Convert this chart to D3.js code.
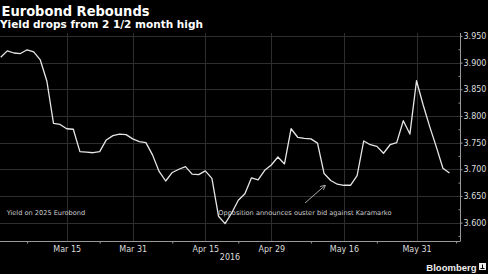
<!DOCTYPE html>
<html>
<head>
<meta charset="utf-8">
<script src="https://cdn.jsdelivr.net/npm/d3@7"></script>
<style>
  html, body { margin: 0; padding: 0; background: #000; }
  svg { display: block; }
</style>
</head>
<body>
<svg id="chart" width="488" height="274"></svg>
<script>
const dates = [
  "2016-03-01","2016-03-02","2016-03-03","2016-03-04","2016-03-07","2016-03-08","2016-03-09","2016-03-10","2016-03-11","2016-03-14",
  "2016-03-15","2016-03-16","2016-03-17","2016-03-18","2016-03-21","2016-03-22","2016-03-23","2016-03-24","2016-03-29","2016-03-30",
  "2016-03-31","2016-04-01","2016-04-04","2016-04-05","2016-04-06","2016-04-07","2016-04-08","2016-04-11","2016-04-12","2016-04-13",
  "2016-04-14","2016-04-15","2016-04-18","2016-04-19","2016-04-20","2016-04-21","2016-04-22","2016-04-25","2016-04-26","2016-04-27",
  "2016-04-28","2016-04-29","2016-05-02","2016-05-03","2016-05-04","2016-05-05","2016-05-06","2016-05-09","2016-05-10","2016-05-11",
  "2016-05-12","2016-05-13","2016-05-16","2016-05-17","2016-05-18","2016-05-19","2016-05-20","2016-05-23","2016-05-24","2016-05-25",
  "2016-05-26","2016-05-27","2016-05-30","2016-05-31","2016-06-01","2016-06-02","2016-06-03","2016-06-06","2016-06-07"
];
const yields = [
  3.910,3.922,3.918,3.917,3.924,3.920,3.905,3.865,3.786,3.784,
  3.776,3.775,3.733,3.732,3.731,3.733,3.755,3.763,3.766,3.765,
  3.757,3.752,3.750,3.727,3.696,3.678,3.694,3.700,3.705,3.691,
  3.690,3.697,3.683,3.612,3.598,3.618,3.642,3.654,3.684,3.680,
  3.698,3.708,3.723,3.710,3.776,3.760,3.758,3.757,3.749,3.692,
  3.679,3.672,3.670,3.670,3.688,3.753,3.746,3.743,3.730,3.746,
  3.750,3.791,3.766,3.866,3.821,3.780,3.742,3.702,3.693
];
const xTickDates = ["2016-03-15","2016-03-31","2016-04-15","2016-04-29","2016-05-16","2016-05-31"];
const xTickLabels = ["Mar 15","Mar 31","Apr 15","Apr 29","May 16","May 31"];
const xMinorDates = ["2016-03-07","2016-03-22","2016-04-08","2016-04-22","2016-05-09","2016-05-23"];
const yTicks = [3.600,3.650,3.700,3.750,3.800,3.850,3.900,3.950];
const yMinorTicks = [3.575,3.625,3.675,3.725,3.775,3.825,3.875,3.925];
const title = "Eurobond Rebounds";
const subtitle = "Yield drops from 2 1/2 month high";
const seriesLabel = "Yield on 2025 Eurobond";
const annotation = "Opposition announces ouster bid against Karamarko";
const yearLabel = "2016";

(function () {
const svg = d3.select("#chart");
const pLeft = 0, pRight = 460.5, pTop = 33, pBottom = 241;

const idx = d => dates.indexOf(d);
const x = d3.scaleLinear().domain([0, dates.length - 1]).range([0.7, 449.5]);
const y = d3.scaleLinear().domain([3.5655, 3.9555]).range([pBottom, pTop]);

const data = dates.map((d, i) => ({ i, v: yields[i] }));

// grid
const grid = svg.append("g").attr("stroke", "#2e2e2e").attr("stroke-width", 1);
yTicks.forEach(t => {
  grid.append("line").attr("x1", pLeft).attr("x2", pRight)
    .attr("y1", Math.round(y(t)) + 0.5).attr("y2", Math.round(y(t)) + 0.5);
});
xTickDates.forEach(d => {
  const px = Math.round(x(idx(d))) + 0.5;
  grid.append("line").attr("x1", px).attr("x2", px).attr("y1", pTop).attr("y2", pBottom);
});

// y axis (right)
const yAxis = d3.axisRight(y).tickValues(yTicks).tickSize(2).tickPadding(1)
  .tickFormat(d3.format(".3f"));
const ya = svg.append("g").attr("transform", `translate(${pRight},0)`).call(yAxis);
ya.select(".domain").remove();
ya.selectAll("line").attr("stroke", "#999");
ya.selectAll("text").attr("fill", "#ddd").attr("font-family", "DejaVu Sans").attr("font-size", "8px");
svg.append("line").attr("x1", pRight).attr("x2", pRight).attr("y1", pTop).attr("y2", pBottom)
  .attr("stroke", "#999");
const yMinor = d3.axisLeft(y).tickValues(yMinorTicks).tickSize(2).tickFormat("");
const ym = svg.append("g").attr("transform", `translate(${pRight},0)`).call(yMinor);
ym.select(".domain").remove();
ym.selectAll("line").attr("stroke", "#999");

// x axis
svg.append("line").attr("x1", pLeft).attr("x2", pRight).attr("y1", pBottom + 0.5).attr("y2", pBottom + 0.5)
  .attr("stroke", "#999");
const xAxis = d3.axisBottom(x).tickValues(xTickDates.map(idx)).tickSize(0).tickPadding(5)
  .tickFormat((d, i) => xTickLabels[i]);
const xa = svg.append("g").attr("transform", `translate(0,${pBottom})`).call(xAxis);
xa.select(".domain").remove();
xa.selectAll("text").attr("fill", "#ddd").attr("font-family", "DejaVu Sans").attr("font-size", "8px");
const minorIdx = xMinorDates.map(idx).concat([dates.length]);
const xMinor = d3.axisBottom(x).tickValues(minorIdx).tickSize(2).tickFormat("");
const xm = svg.append("g").attr("transform", `translate(0,${pBottom + 0.5})`).call(xMinor);
xm.select(".domain").remove();
xm.selectAll("line").attr("stroke", "#999");

svg.append("text").attr("x", 230).attr("y", 260).attr("text-anchor", "middle")
  .attr("fill", "#ddd").attr("font-family", "DejaVu Sans").attr("font-size", "8px").text(yearLabel);

// line
const line = d3.line().x(d => x(d.i)).y(d => y(d.v));
svg.append("path").datum(data).attr("d", line).attr("fill", "none")
  .attr("stroke", "#e6e6e6").attr("stroke-width", 1.3).attr("stroke-linejoin", "round");

// titles
svg.append("text").attr("x", 1.5).attr("y", 15.5).attr("fill", "#fff")
  .attr("font-family", "DejaVu Sans").attr("font-weight", "bold").attr("font-size", "14px")
  .attr("textLength", 148).attr("lengthAdjust", "spacingAndGlyphs").text(title);
svg.append("text").attr("x", 0).attr("y", 28).attr("fill", "#fff")
  .attr("font-family", "DejaVu Sans").attr("font-weight", "bold").attr("font-size", "10.5px").text(subtitle);

// annotations
svg.append("text").attr("x", 6.7).attr("y", 214.5).attr("fill", "#ccc")
  .attr("font-family", "DejaVu Sans").attr("font-size", "6.6px").text(seriesLabel);
svg.append("text").attr("x", 218.3).attr("y", 214.5).attr("fill", "#ccc")
  .attr("font-family", "DejaVu Sans").attr("font-size", "6.6px").text(annotation);

const defs = svg.append("defs");
defs.append("marker").attr("id", "arr").attr("viewBox", "0 0 10 10").attr("refX", 9).attr("refY", 5)
  .attr("markerWidth", 6).attr("markerHeight", 6).attr("orient", "auto")
  .append("path").attr("d", "M0,0 L10,5 L0,10").attr("fill", "none").attr("stroke", "#bbb").attr("stroke-width", 1.5);
svg.append("line").attr("x1", 305).attr("y1", 203).attr("x2", 325).attr("y2", 185.5)
  .attr("stroke", "#bbb").attr("stroke-width", 0.9).attr("marker-end", "url(#arr)");

// Bloomberg logo
svg.append("text").attr("x", 476.5).attr("y", 270.5).attr("text-anchor", "end").attr("fill", "#eee")
  .attr("font-family", "Liberation Sans").attr("font-weight", "bold").attr("font-size", "9.5px").text("Bloomberg");
svg.append("rect").attr("x", 479).attr("y", 263).attr("width", 7).attr("height", 7).attr("fill", "#eee");
svg.append("path").attr("d", "M480.5,268.5 L484.5,268.5 M482.5,264.5 L482.5,268").attr("stroke", "#000").attr("stroke-width", 1);
})();
</script>
</body>
</html>
